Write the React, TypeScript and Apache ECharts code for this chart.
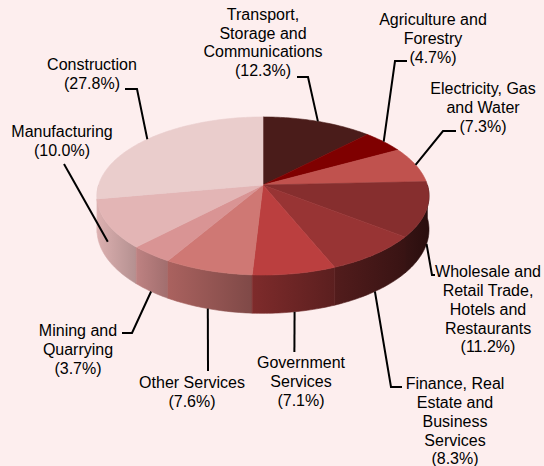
import React, { useEffect, useRef } from "react";
import * as echarts from "echarts";

// ---- data ----
const categories = [
  "Transport, Storage and Communications",
  "Agriculture and Forestry",
  "Electricity, Gas and Water",
  "Wholesale and Retail Trade, Hotels and Restaurants",
  "Finance, Real Estate and Business Services",
  "Government Services",
  "Other Services",
  "Mining and Quarrying",
  "Manufacturing",
  "Construction",
];
const values = [12.3, 4.7, 7.3, 11.2, 8.3, 7.1, 7.6, 3.7, 10.0, 27.8];
const labelTexts = [
  "Transport,\nStorage and\nCommunications",
  "Agriculture and\nForestry",
  "Electricity, Gas\nand Water",
  "Wholesale and\nRetail Trade,\nHotels and\nRestaurants",
  "Finance, Real\nEstate and\nBusiness\nServices",
  "Government\nServices",
  "Other Services",
  "Mining and\nQuarrying",
  "Manufacturing",
  "Construction",
];

// ---- styles / layout ----
const sliceColors = [
  "#4a1c1a", "#7f0000", "#c0524e", "#862e2e", "#983434",
  "#bb3f3f", "#cf7874", "#d99494", "#e3b5b5", "#eacdcc",
];
// label placement: text center x, first-line center y, elbow points, anchor depth fraction on the side wall
const labelLayout = [
  { x: 263, y: 14.5, pts: [[308, 77], [297, 77]], depth: 0 },
  { x: 433, y: 20, pts: [[395, 61], [407, 61]], depth: 0 },
  { x: 483, y: 89, pts: [[443, 131], [456, 131]], depth: 0 },
  { x: 488, y: 272, pts: [[432, 275], [435, 275]], depth: 1 },
  { x: 455, y: 384, pts: [[391, 387], [402, 387]], depth: 1 },
  { x: 301, y: 363, pts: [[294.4, 352]], depth: 1 },
  { x: 192, y: 383, pts: [[208, 371]], depth: 1 },
  { x: 78, y: 331, pts: [[132, 333], [122, 333]], depth: 1 },
  { x: 62, y: 132, pts: [[64, 164]], depth: 0.5 },
  { x: 92, y: 65, pts: [[137, 89], [125, 89]], depth: 0 },
];

const CX = 263, CY = 185, R = 164.4, RY = 77.5, K = 0.139, H = 33;
const FONT = '16px "Liberation Sans", Arial, Helvetica, sans-serif';
const LH = 18.7;

function proj(t: number) {
  const c = Math.cos(t);
  const s = 1 / (1 + K * c);
  return [CX + R * Math.sin(t) * s, CY - RY * c * s, s];
}
function hexToRgb(h: string) {
  const n = parseInt(h.slice(1), 16);
  return [(n >> 16) & 255, (n >> 8) & 255, n & 255];
}
function shade(h: string, f: number) {
  const [r, g, b] = hexToRgb(h);
  const c = (v: number) => Math.max(0, Math.min(255, Math.round(v * f)));
  return `rgb(${c(r)},${c(g)},${c(b)})`;
}
const light = (t: number) => 0.62 - 0.3 * Math.sin(t);

export default function App() {
  const ref = useRef<HTMLDivElement>(null);
  useEffect(() => {
    document.body.style.margin = "0";
    if (!ref.current) return;
    const chart = echarts.init(ref.current, undefined, { renderer: "svg" });
    const total = values.reduce((a, b) => a + b, 0);
    const starts: number[] = [];
    let acc = 0;
    values.forEach((v) => { starts.push(acc); acc += v; });

    const renderItem = (params: any) => {
      const i = params.dataIndex;
      const a0 = (starts[i] / total) * Math.PI * 2;
      const a1 = ((starts[i] + values[i]) / total) * Math.PI * 2;
      const col = sliceColors[i];
      const children: any[] = [];
      // top face
      const n = Math.max(4, Math.ceil((a1 - a0) / (Math.PI / 180)));
      const topPts: number[][] = [[CX, CY]];
      for (let k = 0; k <= n; k++) {
        const p = proj(a0 + ((a1 - a0) * k) / n);
        topPts.push([p[0], p[1]]);
      }
      children.push({
        type: "polygon", z2: 100, shape: { points: topPts },
        style: { fill: col, stroke: col, lineWidth: 0.6 },
      });
      // side wall (front half only)
      const s0 = Math.max(a0, Math.PI / 2), s1 = Math.min(a1, (Math.PI * 3) / 2);
      if (s1 > s0) {
        const m = Math.max(3, Math.ceil((s1 - s0) / (Math.PI / 180)));
        const up: number[][] = [], dn: number[][] = [];
        for (let k = 0; k <= m; k++) {
          const p = proj(s0 + ((s1 - s0) * k) / m);
          up.push([p[0], p[1]]);
          dn.push([p[0], p[1] + H * p[2]]);
        }
        const pts = up.concat(dn.reverse());
        // s1 is the left edge (larger angle), s0 the right edge
        const leftC = shade(col, light(s1) * 1.06);
        const rightC = shade(col, light(s0) * 0.96);
        const grad = new echarts.graphic.LinearGradient(0, 0, 1, 0, [
          { offset: 0, color: leftC },
          { offset: 1, color: rightC },
        ]);
        children.push({
          type: "polygon", z2: 10 + Math.round(-Math.cos((s0 + s1) / 2) * 40),
          shape: { points: pts },
          style: { fill: grad, stroke: grad, lineWidth: 0.6 },
        });
      }
      // label
      const L = labelLayout[i];
      const mid = (a0 + a1) / 2;
      const ap = proj(mid);
      const anchor = [ap[0], ap[1] + H * ap[2] * L.depth];
      children.push({
        type: "polyline", z2: 150,
        shape: { points: [anchor, ...L.pts] },
        style: { stroke: "#000", lineWidth: 2, fill: null },
      });
      children.push({
        type: "text", z2: 200, x: L.x, y: L.y - LH / 2,
        style: {
          text: `${labelTexts[i]}\n(${values[i].toFixed(1)}%)`,
          font: FONT, fill: "#000", lineHeight: LH,
          align: "center", textAlign: "center",
          verticalAlign: "top", textVerticalAlign: "top",
        },
      });
      return { type: "group", children };
    };

    chart.setOption({
      animation: false,
      backgroundColor: "#fdeeee",
      series: [
        {
          type: "custom",
          coordinateSystem: "none",
          silent: true,
          renderItem,
          data: values.map((v, i) => ({ value: v, name: categories[i] })),
        },
      ],
    });
    return () => chart.dispose();
  }, []);
  return <div ref={ref} style={{ width: 544, height: 466, background: "#fdeeee" }} />;
}
